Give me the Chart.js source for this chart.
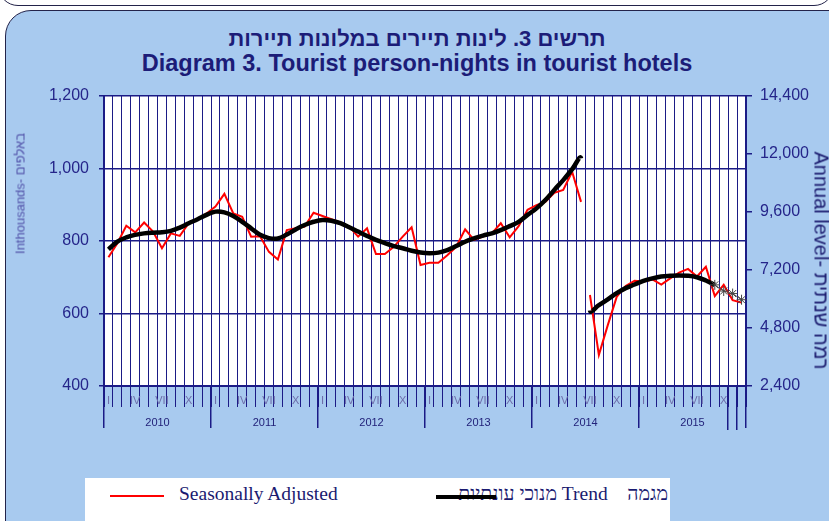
<!DOCTYPE html>
<html>
<head>
<meta charset="utf-8">
<script src="https://cdn.jsdelivr.net/npm/chart.js@4.4.1/dist/chart.umd.min.js"></script>
<style>
  body { margin: 0; width: 829px; height: 521px; overflow: hidden; background: #fff; position: relative; font-family: "Liberation Sans", Arial, sans-serif; }
  #topcap { position: absolute; left: -2px; top: -40px; width: 834px; height: 44px; border: 1.5px solid #23234a; border-radius: 20px; background: #fff; }
  #panel { position: absolute; left: 5px; top: 10px; width: 860px; height: 560px; background: #a8caef; border: 1.5px solid #23234a; border-radius: 26px; }
  .title { position: absolute; left: 5px; width: 824px; text-align: center; color: #1c1c78; font-weight: bold; white-space: nowrap; }
  #wrap { position: absolute; left: 0; top: 0; width: 829px; height: 470px; }
  .axTitle { position: absolute; white-space: nowrap; transform-origin: center center; }
  #legend { position: absolute; left: 85px; top: 478px; width: 585px; height: 45px; background: #fff; }
  .lgText { position: absolute; font-family: "Liberation Serif", "Times New Roman", serif; font-size: 19.5px; color: #1a1a70; white-space: nowrap; }
</style>
</head>
<body>
<div id="topcap"></div>
<div id="panel"></div>
<div class="title" style="top:26px; font-size:22px" dir="rtl">תרשים 3. לינות תיירים במלונות תיירות</div>
<div class="title" style="top:50px; font-size:23.5px">Diagram 3. Tourist person-nights in tourist hotels</div>
<div id="wrap"><canvas id="chart"></canvas></div>
<div class="axTitle" style="left:-44px; top:186px; width:128px; font-size:13px; color:#5050a8; text-align:center; transform:rotate(-90deg)">Inthousands- באלפים</div>
<div class="axTitle" style="left:698px; top:249px; width:246px; font-size:20px; color:#1a1a6e; text-align:center; transform:rotate(90deg)">Annual level- רמה שנתית</div>
<div id="legend">
  <div style="position:absolute; left:25px; top:17px; width:54px; height:2px; background:#f00"></div>
  <div class="lgText" style="left:94px; top:5px">Seasonally Adjusted</div>
  <div class="lgText" style="right:2px; top:5px" dir="rtl">מגמה&nbsp;&nbsp;&nbsp; Trend מנוכי עונתיות</div>
  <div style="position:absolute; left:351px; top:17px; width:60px; height:4px; background:#000"></div>
</div>
<script>
// Years and month marks on the x axis (Jan 2010 - Dec 2015)
const years = ["2010", "2011", "2012", "2013", "2014", "2015"];
const monthMarks = ["I", "", "", "IV", "", "", "VII", "", "", "X", "", ""];

// Seasonally adjusted person-nights, thousands
const seasonallyAdjusted = [
  755, 794, 842, 824, 851, 826, 780, 821, 814, 849, 860, 876,
  895, 930, 876, 867, 812, 813, 770, 749, 830, 835, 840, 878,
  869, 860, 851, 840, 812, 835, 764, 764, 784, 812, 838, 734,
  740, 740, 761, 784, 832, 803, 812, 821, 849, 810, 841, 886,
  899, 908, 933, 941, 991, 908, 651, 486, 568, 646, 676, 690,
  688, 694, 680, 697, 713, 723, 702, 729, 648, 679, 637, 630
];

// Trend, thousands
const trend = [
  777, 798, 810, 817, 821, 823, 824, 828, 837, 849, 860, 872,
  881, 879, 869, 853, 835, 817, 808, 807, 818, 832, 844, 853,
  858, 856, 849, 838, 826, 814, 803, 794, 786, 780, 773, 768,
  766, 768, 775, 786, 798, 807, 815, 821, 830, 841, 853, 872,
  890, 913, 941, 968, 998, 1028, 608, 623, 639, 656, 670, 680,
  690, 697, 702, 704, 705, 704, 700, 691, 679, null, null, null
];

// Last trend months, shown with markers
const trendLast = [
  null, null, null, null, null, null, null, null, null, null, null, null,
  null, null, null, null, null, null, null, null, null, null, null, null,
  null, null, null, null, null, null, null, null, null, null, null, null,
  null, null, null, null, null, null, null, null, null, null, null, null,
  null, null, null, null, null, null, null, null, null, null, null, null,
  null, null, null, null, null, null, null, null, 679, 662, 655, 638
];

// series is broken after June 2014
const seriesBreak = 53;

const leftMin = 400, leftMax = 1200, leftStep = 200;
const rightMin = 2400, rightMax = 14400, rightStep = 2400;

const labels = [];
years.forEach(y => monthMarks.forEach((m, i) => labels.push(y + "-" + (i + 1))));

const navy = "#1b1b86";
const gapColor = ctx => ctx.p0DataIndex === seriesBreak ? "rgba(0,0,0,0)" : undefined;

const plotBg = {
  id: "plotBg",
  beforeDraw(chart) {
    const a = chart.chartArea;
    chart.ctx.save();
    chart.ctx.fillStyle = "#fff";
    chart.ctx.fillRect(a.left, a.top, a.right - a.left, a.bottom - a.top);
    chart.ctx.restore();
  }
};

Chart.defaults.font.family = "'Liberation Sans', Arial, sans-serif";

const ctx = document.getElementById("chart").getContext("2d");
const chart = new Chart(ctx, {
  type: "line",
  data: {
    labels: labels,
    datasets: [
      {
        label: "Trend",
        data: trend,
        borderColor: "#000",
        borderWidth: 4.5,
        pointRadius: 0,
        tension: 0.4,
        order: 1,
        segment: { borderColor: gapColor }
      },
      {
        label: "Seasonally Adjusted",
        data: seasonallyAdjusted,
        borderColor: "#ff0000",
        borderWidth: 2,
        pointRadius: 0,
        tension: 0,
        order: 2,
        segment: { borderColor: gapColor }
      },
      {
        label: "Trend (last)",
        data: trendLast,
        borderColor: "#555",
        borderWidth: 1,
        pointStyle: "star",
        pointRadius: 5,
        pointBorderColor: "#444",
        pointBorderWidth: 1,
        order: 0
      }
    ]
  },
  options: {
    responsive: true,
    maintainAspectRatio: false,
    animation: false,
    layout: { padding: { left: 0, right: 0, top: 96, bottom: 34 } },
    plugins: { legend: { display: false }, tooltip: { enabled: false } },
    scales: {
      x: {
        type: "category",
        offset: true,
        grid: { offset: true, color: navy, lineWidth: 1, tickLength: 21, tickColor: navy },
        border: { color: navy, width: 2 },
        ticks: {
          autoSkip: false, maxRotation: 0, padding: -13,
          color: "#6d6daa", font: { size: 11 },
          callback: (v, i) => monthMarks[i % 12]
        },
        afterFit: s => { s.height = 50; }
      },
      xYears: {
        type: "category",
        axis: "x",
        labels: years,
        position: { y: leftMin },
        offset: true,
        grid: { offset: true, drawOnChartArea: false, tickLength: 42, tickColor: navy, lineWidth: 1.5 },
        border: { display: false },
        ticks: { padding: -12, color: "#22227a", font: { size: 11 } }
      },
      // long tick marks at the last month boundaries
      xTail: {
        type: "category",
        axis: "x",
        labels: labels,
        position: { y: leftMin },
        offset: true,
        grid: {
          offset: true, drawOnChartArea: false, tickLength: 44, lineWidth: 1.5,
          tickColor: c => c.index >= 70 ? navy : "rgba(0,0,0,0)"
        },
        border: { display: false },
        ticks: { autoSkip: false, maxRotation: 0, callback: () => "" }
      },
      y: {
        position: "left",
        min: leftMin, max: leftMax,
        ticks: { stepSize: leftStep, color: "#25258a", font: { size: 16 }, padding: 10 },
        grid: { color: navy, lineWidth: 1.5, tickLength: 5, tickColor: navy },
        border: { color: navy, width: 2 },
        afterFit: s => { s.width = 104; }
      },
      y2: {
        position: "right",
        min: rightMin, max: rightMax,
        ticks: { stepSize: rightStep, color: "#25258a", font: { size: 16 }, padding: 8 },
        grid: { drawOnChartArea: false, tickLength: 6, tickColor: navy, lineWidth: 1.5 },
        border: { color: navy, width: 2 },
        afterFit: s => { s.width = 83; }
      }
    }
  },
  plugins: [plotBg]
});
</script>
</body>
</html>
